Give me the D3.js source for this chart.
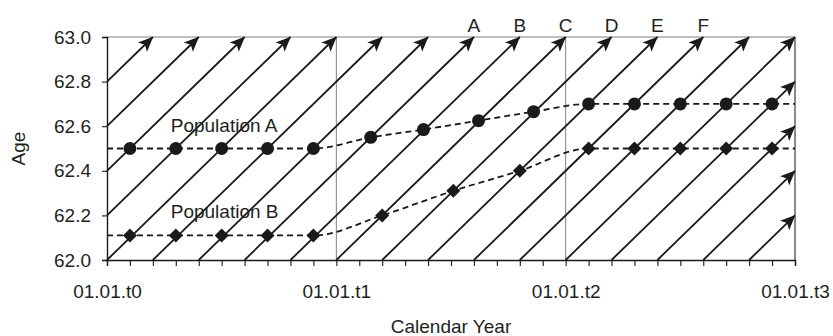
<!DOCTYPE html>
<html>
<head>
<meta charset="utf-8">
<script src="https://cdn.jsdelivr.net/npm/d3@7"></script>
<style>
  body { margin: 0; background: #fff; }
  svg { display: block; font-family: "Liberation Sans", Arial, sans-serif; }
  text { fill: #231f20; }
</style>
</head>
<body>
<div id="chart"></div>
<script>
// calendar time in years since 01.01.t0
var yearLabels = ["01.01.t0", "01.01.t1", "01.01.t2", "01.01.t3"];
var yearValues = [0, 1, 2, 3];
var ageTicks = [62.0, 62.2, 62.4, 62.6, 62.8, 63.0];

// lifelines: calendar time at which each cohort reaches age 62.0
var cohortStarts = [-0.8, -0.6, -0.4, -0.2, 0.0, 0.2, 0.4, 0.6, 0.8, 1.0, 1.2, 1.4,
                    1.6, 1.8, 2.0, 2.2, 2.4, 2.6, 2.8];

var popATimes = [0.1, 0.3, 0.5, 0.7, 0.9, 1.15, 1.38, 1.62, 1.86, 2.1, 2.3, 2.5, 2.7, 2.9];
var popAAges  = [62.5, 62.5, 62.5, 62.5, 62.5, 62.55, 62.585, 62.625, 62.665, 62.7, 62.7, 62.7, 62.7, 62.7];
var popBTimes = [0.1, 0.3, 0.5, 0.7, 0.9, 1.2, 1.51, 1.8, 2.1, 2.3, 2.5, 2.7, 2.9];
var popBAges  = [62.11, 62.11, 62.11, 62.11, 62.11, 62.2, 62.31, 62.4, 62.5, 62.5, 62.5, 62.5, 62.5];

var letters = ["A", "B", "C", "D", "E", "F"];
var letterTimes = [1.6, 1.8, 2.0, 2.2, 2.4, 2.6];

var width = 833, height = 336;
var margin = {top: 37, right: 38, bottom: 76, left: 107};

var svg = d3.select("#chart").append("svg")
    .attr("width", width)
    .attr("height", height);

var x = d3.scaleLinear().domain([0, 3]).range([margin.left, width - margin.right]);
var y = d3.scaleLinear().domain([62, 63]).range([height - margin.bottom, margin.top]);

var defs = svg.append("defs");
defs.append("marker")
    .attr("id", "arrow")
    .attr("markerUnits", "userSpaceOnUse")
    .attr("viewBox", "-16 -8 17 16")
    .attr("refX", 0).attr("refY", 0)
    .attr("markerWidth", 17).attr("markerHeight", 16)
    .attr("orient", "auto")
  .append("path")
    .attr("d", "M0.5,0 L-14.5,-6.5 L-11,0 L-14.5,6.5 Z")
    .attr("fill", "#1a1a1a");

// vertical year separators and frame
svg.selectAll("line.sep")
    .data([1, 2])
  .enter().append("line")
    .attr("class", "sep")
    .attr("x1", function(d) { return x(d); })
    .attr("x2", function(d) { return x(d); })
    .attr("y1", y(63)).attr("y2", y(62))
    .attr("stroke", "#808080").attr("stroke-width", 1);

svg.append("line")
    .attr("x1", x(0)).attr("x2", x(3))
    .attr("y1", y(63)).attr("y2", y(63))
    .attr("stroke", "#808080").attr("stroke-width", 1);
svg.append("line")
    .attr("x1", x(3)).attr("x2", x(3))
    .attr("y1", y(63)).attr("y2", y(62))
    .attr("stroke", "#8a8a8a").attr("stroke-width", 2);

// lifelines (age grows one year per calendar year)
svg.append("g").selectAll("line")
    .data(cohortStarts)
  .enter().append("line")
    .attr("x1", function(s) { return x(Math.max(0, s)); })
    .attr("y1", function(s) { return y(62 + Math.max(0, s) - s); })
    .attr("x2", function(s) { return x(Math.min(3, s + 1)); })
    .attr("y2", function(s) { return y(62 + Math.min(3, s + 1) - s); })
    .attr("stroke", "#1a1a1a")
    .attr("stroke-width", 1.8)
    .attr("marker-end", "url(#arrow)");

// axes
svg.append("g")
    .attr("transform", "translate(" + x(0) + ",0)")
    .call(d3.axisLeft(y).tickValues(ageTicks).tickFormat(d3.format(".1f")).tickSize(5).tickPadding(11));

var minorTicks = d3.range(0, 31).map(function(i) { return i / 10; });
svg.append("g")
    .attr("transform", "translate(0," + y(62) + ")")
    .call(d3.axisBottom(x).tickValues(minorTicks).tickFormat("").tickSize(6));

var xLabels = svg.append("g")
    .attr("transform", "translate(0," + y(62) + ")")
    .call(d3.axisBottom(x).tickValues(yearValues)
        .tickFormat(function(d, i) { return yearLabels[i]; })
        .tickSize(0).tickPadding(25));
xLabels.select(".domain").remove();

svg.selectAll(".domain").attr("stroke", "#1a1a1a").attr("stroke-width", 1.4);
svg.selectAll(".tick line").attr("stroke", "#1a1a1a").attr("stroke-width", 1.1);
svg.selectAll(".tick text")
    .attr("font-size", 19)
    .attr("font-family", "Liberation Sans, Arial, sans-serif")
    .attr("fill", "#231f20");

// population curves
function series(times, ages) {
  var pts = times.map(function(t, i) { return [t, ages[i]]; });
  return [[0, ages[0]]].concat(pts, [[3, ages[ages.length - 1]]]);
}

var line = d3.line()
    .x(function(d) { return x(d[0]); })
    .y(function(d) { return y(d[1]); })
    .curve(d3.curveMonotoneX);

[[popATimes, popAAges], [popBTimes, popBAges]].forEach(function(s) {
  svg.append("path")
      .datum(series(s[0], s[1]))
      .attr("d", line)
      .attr("fill", "none")
      .attr("stroke", "#1a1a1a")
      .attr("stroke-width", 1.8)
      .attr("stroke-dasharray", "6,4");
});

svg.append("g").selectAll("circle")
    .data(popATimes)
  .enter().append("circle")
    .attr("cx", function(t) { return x(t); })
    .attr("cy", function(t, i) { return y(popAAges[i]); })
    .attr("r", 6.5)
    .attr("fill", "#1a1a1a");

svg.append("g").selectAll("path")
    .data(popBTimes)
  .enter().append("path")
    .attr("d", d3.symbol().type(d3.symbolDiamond2).size(125))
    .attr("transform", function(t, i) {
      return "translate(" + x(t) + "," + y(popBAges[i]) + ")";
    })
    .attr("fill", "#1a1a1a");

// annotations
svg.append("text")
    .attr("x", x(0.278)).attr("y", y(62.575))
    .attr("font-size", 19)
    .text("Population A");
svg.append("text")
    .attr("x", x(0.278)).attr("y", y(62.187))
    .attr("font-size", 19)
    .text("Population B");

svg.append("g").selectAll("text")
    .data(letters)
  .enter().append("text")
    .attr("x", function(d, i) { return x(letterTimes[i]); })
    .attr("y", 32)
    .attr("text-anchor", "middle")
    .attr("font-size", 19)
    .text(function(d) { return d; });

svg.append("text")
    .attr("x", (x(0) + x(3)) / 2)
    .attr("y", 333)
    .attr("text-anchor", "middle")
    .attr("font-size", 19)
    .text("Calendar Year");

svg.append("text")
    .attr("transform", "translate(25," + y(62.5) + ") rotate(-90)")
    .attr("text-anchor", "middle")
    .attr("font-size", 19)
    .text("Age");
</script>
</body>
</html>
